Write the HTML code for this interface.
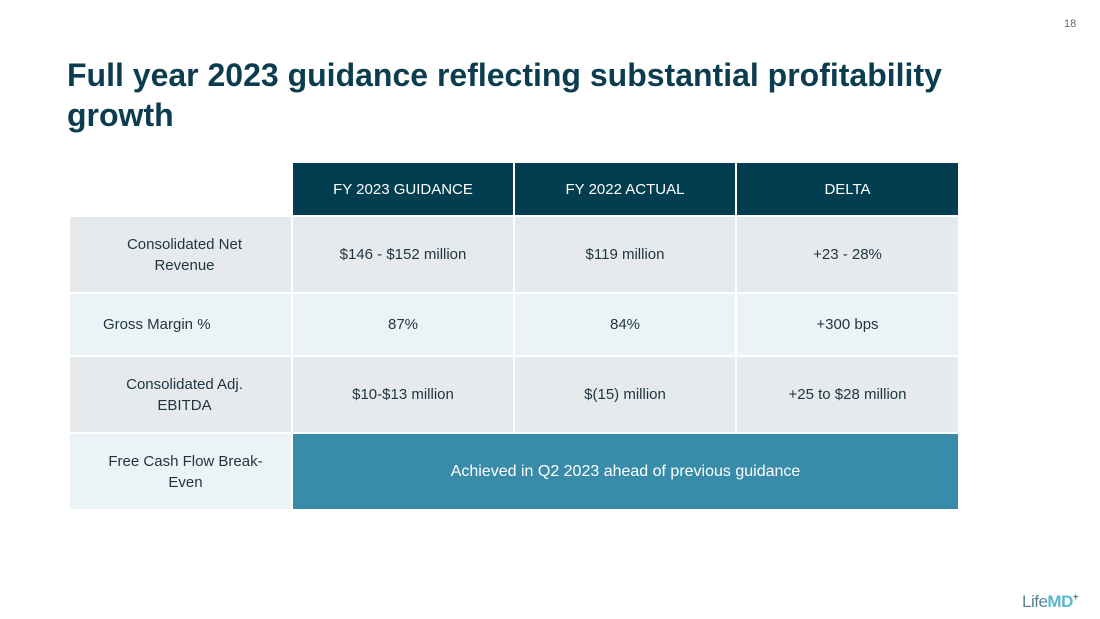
<!DOCTYPE html>
<html><head><meta charset="utf-8"><style>
body{margin:0;width:1100px;height:619px;background:#fff;position:relative;overflow:hidden;font-family:"Liberation Sans",sans-serif;}
.a{position:absolute;display:flex;align-items:center;justify-content:center;text-align:center;font-size:15px;color:#1f3440;box-sizing:border-box;line-height:21px;}
.h{background:#023e50;color:#fff;font-size:15px;}
.r1{background:#e6eaed}.r2{background:#ebf3f7}
</style></head><body>
<div style="position:absolute;left:1064px;top:18px;font-size:11px;color:#666">18</div>
<div style="position:absolute;left:67px;top:55px;width:960px;font-size:32px;font-weight:bold;color:#0b3d4f;line-height:40px">Full year 2023 guidance reflecting substantial profitability growth</div>

<div class="a h" style="left:293px;top:163px;width:220px;height:52px">FY 2023 GUIDANCE</div>
<div class="a h" style="left:515px;top:163px;width:220px;height:52px">FY 2022 ACTUAL</div>
<div class="a h" style="left:737px;top:163px;width:221px;height:52px">DELTA</div>

<div class="a r1" style="left:70px;top:217px;width:221px;height:75px;padding-left:8px">Consolidated Net<br>Revenue</div>
<div class="a r1" style="left:293px;top:217px;width:220px;height:75px">$146 - $152 million</div>
<div class="a r1" style="left:515px;top:217px;width:220px;height:75px">$119 million</div>
<div class="a r1" style="left:737px;top:217px;width:221px;height:75px">+23 - 28%</div>

<div class="a r2" style="left:70px;top:294px;width:221px;height:61px;justify-content:flex-start;padding-left:33px">Gross Margin %</div>
<div class="a r2" style="left:293px;top:294px;width:220px;height:61px">87%</div>
<div class="a r2" style="left:515px;top:294px;width:220px;height:61px">84%</div>
<div class="a r2" style="left:737px;top:294px;width:221px;height:61px">+300 bps</div>

<div class="a r1" style="left:70px;top:357px;width:221px;height:75px;padding-left:8px">Consolidated Adj.<br>EBITDA</div>
<div class="a r1" style="left:293px;top:357px;width:220px;height:75px">$10-$13 million</div>
<div class="a r1" style="left:515px;top:357px;width:220px;height:75px">$(15) million</div>
<div class="a r1" style="left:737px;top:357px;width:221px;height:75px">+25 to $28 million</div>

<div class="a r2" style="left:70px;top:434px;width:221px;height:75px;padding-left:10px">Free Cash Flow Break-<br>Even</div>
<div class="a" style="left:293px;top:434px;width:665px;height:75px;background:#398ca9;color:#fff;font-size:16px">Achieved in Q2 2023 ahead of previous guidance</div>

<div style="position:absolute;left:1022px;top:592px;font-size:17px;color:#5a8595;letter-spacing:-0.5px">Life<b style="color:#5bb8cc">MD</b><sup style="color:#0b3d4f;font-size:10px">+</sup></div>
</body></html>
